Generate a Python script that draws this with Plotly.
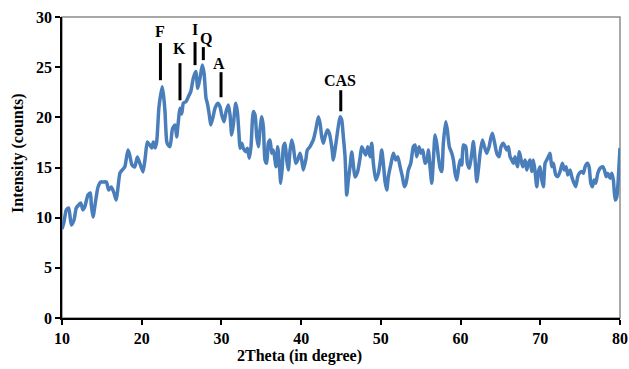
import plotly.graph_objects as go

two_theta = [10.00, 10.25, 10.54, 10.84, 11.17, 11.51, 11.79, 12.10, 12.35, 12.63, 12.85, 13.26, 13.55, 13.68, 13.89, 14.18, 14.52, 14.86, 15.14, 15.56,
             15.86, 16.19, 16.52, 16.81, 17.03, 17.28, 17.57, 17.87, 18.28, 18.49, 18.78, 19.12, 19.45, 19.75, 20.16, 20.45, 20.70, 21.00, 21.25, 21.46,
             21.67, 21.88, 22.17, 22.58, 22.80, 22.92, 23.14, 23.30, 23.55, 23.86, 24.18, 24.39, 24.55, 24.81, 25.02, 25.22, 25.56, 25.85, 26.15, 26.47,
             26.78, 27.03, 27.31, 27.60, 27.82, 28.07, 28.23, 28.48, 28.66, 28.91, 29.20, 29.54, 29.82, 30.04, 30.33, 30.58, 30.87, 31.08, 31.29, 31.49,
             31.79, 32.00, 32.21, 32.33, 32.55, 32.75, 33.05, 33.25, 33.50, 33.71, 34.00, 34.22, 34.43, 34.63, 34.84, 35.06, 35.26, 35.47, 35.68, 35.88,
             36.10, 36.31, 36.51, 36.85, 37.06, 37.26, 37.44, 37.64, 37.77, 37.98, 38.19, 38.39, 38.61, 38.82, 39.02, 39.32, 39.57, 39.86, 40.07, 40.28,
             40.58, 40.78, 41.12, 41.33, 41.53, 41.83, 42.16, 42.37, 42.58, 42.79, 43.00, 43.29, 43.54, 43.84, 44.04, 44.25, 44.54, 44.88, 45.09, 45.29,
             45.51, 45.72, 45.92, 46.14, 46.35, 46.55, 46.76, 47.08, 47.39, 47.60, 47.80, 48.10, 48.36, 48.64, 48.86, 49.06, 49.36, 49.69, 49.90, 50.11,
             50.31, 50.53, 50.74, 50.94, 51.28, 51.57, 51.87, 52.12, 52.41, 52.70, 52.95, 53.16, 53.45, 53.75, 54.08, 54.29, 54.50, 54.79, 55.04, 55.26,
             55.54, 55.80, 55.96, 56.17, 56.39, 56.59, 56.80, 57.01, 57.21, 57.43, 57.64, 57.84, 58.14, 58.34, 58.59, 58.90, 59.10, 59.31, 59.52, 59.72,
             59.94, 60.15, 60.35, 60.65, 60.85, 61.10, 61.41, 61.61, 61.82, 62.03, 62.23, 62.45, 62.74, 62.99, 63.29, 63.58, 63.79, 63.99, 64.24, 64.54,
             64.83, 65.08, 65.37, 65.58, 65.80, 66.00, 66.21, 66.42, 66.62, 66.84, 67.13, 67.38, 67.59, 67.80, 68.09, 68.30, 68.51, 68.72, 68.93, 69.13,
             69.35, 69.56, 69.76, 69.97, 70.19, 70.39, 70.60, 70.81, 71.02, 71.23, 71.44, 71.64, 71.94, 72.19, 72.48, 72.77, 73.02, 73.24, 73.45, 73.74,
             73.95, 74.24, 74.45, 74.70, 74.91, 75.21, 75.41, 75.62, 75.91, 76.12, 76.34, 76.54, 76.75, 76.96, 77.21, 77.50, 77.84, 78.04, 78.26, 78.47,
             78.76, 78.97, 79.17, 79.39, 79.60, 79.80, 80.00]

intensity = [8.87, 9.57, 10.77, 10.97, 9.27, 9.77, 10.97, 11.27, 11.47, 10.77, 11.07, 12.26, 12.46, 11.27, 10.07, 11.47, 13.06, 13.56, 13.56, 13.56,
             12.76, 13.06, 12.46, 11.76, 13.06, 14.46, 14.76, 15.05, 16.75, 16.25, 15.25, 15.05, 16.05, 15.45, 14.56, 16.05, 17.55, 17.25, 16.95, 17.55,
             16.95, 17.58, 21.07, 23.06, 21.73, 20.57, 17.58, 17.25, 17.08, 18.84, 19.24, 18.05, 19.24, 20.91, 20.34, 21.41, 21.57, 22.06, 22.56, 23.90,
             24.56, 22.90, 23.90, 25.22, 24.40, 21.90, 21.41, 20.24, 19.24, 19.91, 20.91, 21.41, 21.07, 20.24, 19.57, 20.57, 21.24, 20.24, 18.25, 19.24,
             21.41, 20.57, 18.25, 16.92, 17.42, 16.92, 16.58, 16.92, 15.92, 17.08, 20.57, 20.24, 18.08, 17.08, 18.74, 20.07, 19.07, 15.75, 15.42, 17.42,
             17.75, 16.42, 16.75, 15.08, 17.08, 15.42, 13.43, 15.08, 17.08, 17.42, 15.75, 14.76, 16.75, 17.75, 17.08, 15.42, 15.75, 16.42, 15.75, 14.76,
             15.75, 16.75, 17.08, 17.42, 17.75, 18.74, 20.07, 19.41, 18.08, 17.42, 18.08, 18.74, 18.41, 17.08, 15.75, 16.75, 18.41, 20.07, 19.74, 18.08,
             16.08, 12.26, 13.76, 15.15, 16.55, 15.25, 14.06, 14.56, 15.95, 17.08, 16.75, 16.25, 17.08, 16.08, 17.42, 15.42, 13.76, 14.43, 15.42, 16.75,
             15.42, 13.59, 12.76, 14.09, 15.42, 16.42, 15.75, 16.08, 15.08, 14.09, 13.09, 13.43, 14.76, 15.42, 17.08, 17.25, 16.08, 17.08, 16.42, 16.75,
             15.42, 15.75, 16.75, 15.08, 13.43, 15.75, 18.25, 17.42, 16.08, 14.96, 14.59, 17.42, 19.57, 18.74, 17.08, 16.42, 15.75, 14.43, 13.76, 14.76,
             15.75, 15.25, 17.25, 17.08, 15.42, 14.93, 16.42, 17.58, 15.75, 13.59, 14.76, 16.42, 17.75, 17.08, 16.42, 17.08, 17.92, 18.41, 17.58, 16.42,
             16.08, 17.08, 17.42, 17.08, 16.75, 17.08, 16.08, 15.75, 15.42, 16.08, 15.08, 16.58, 15.75, 15.08, 15.75, 14.76, 15.42, 15.75, 14.59, 15.75,
             14.56, 13.09, 14.56, 15.08, 13.76, 13.09, 15.42, 15.75, 16.08, 16.42, 15.08, 15.42, 14.26, 14.09, 14.59, 15.42, 14.76, 15.08, 14.26, 14.76,
             14.09, 13.43, 13.09, 14.09, 14.43, 14.59, 14.43, 15.08, 15.42, 15.08, 13.43, 13.09, 13.76, 13.43, 14.43, 14.93, 15.08, 14.76, 14.09, 14.43,
             13.93, 14.43, 13.76, 11.76, 12.09, 14.09, 16.95]

# Phase labels
phase_names = ["F", "K", "I", "Q", "A", "CAS"]
phase_x = [22.35, 24.8, 26.69, 27.73, 29.95, 44.97]
phase_line_low = [23.7, 21.7, 25.2, 25.7, 22.0, 20.6]
phase_line_high = [27.4, 25.4, 27.5, 27.0, 24.5, 22.7]
phase_text_x = [22.35, 24.75, 26.69, 28.07, 29.75, 44.9]
phase_text_y = [28.6, 26.9, 28.8, 27.9, 25.4, 23.7]

x_ticks = [10, 20, 30, 40, 50, 60, 70, 80]
y_ticks = [0, 5, 10, 15, 20, 25, 30]
x_title = "2Theta (in degree)"
y_title = "Intensity (counts)"

serif = "Liberation Serif"

fig = go.Figure()
fig.add_trace(go.Scatter(x=two_theta, y=intensity, mode="lines",
                         line=dict(color="#4A7EBB", width=3.5, shape="spline", smoothing=0.6),
                         hoverinfo="skip", showlegend=False))

for name, xx, lo, hi, tx, ty in zip(phase_names, phase_x, phase_line_low, phase_line_high, phase_text_x, phase_text_y):
    fig.add_trace(go.Scatter(x=[xx, xx], y=[lo, hi], mode="lines",
                             line=dict(color="black", width=3), showlegend=False, hoverinfo="skip"))
    fig.add_annotation(x=tx, y=ty, text="<b>%s</b>" % name, showarrow=False,
                       xref="x", yref="y", font=dict(family=serif, size=16, color="black"))

fig.add_shape(type="rect", xref="paper", yref="paper", x0=0, y0=0, x1=1, y1=1,
              line=dict(color="#8C8C8C", width=1.5), layer="below")

axis_font = dict(family=serif, size=16, color="black")
fig.add_annotation(x=0.4265, y=-0.126, xref="paper", yref="paper", text="<b>%s</b>" % x_title,
                   showarrow=False, font=axis_font, xanchor="center", yanchor="middle")
fig.add_annotation(x=-0.079, y=0.548, xref="paper", yref="paper", text="<b>%s</b>" % y_title,
                   showarrow=False, font=axis_font, textangle=-90, xanchor="center", yanchor="middle")

fig.update_layout(
    width=629, height=369,
    margin=dict(l=62, r=9, t=17, b=51),
    paper_bgcolor="white", plot_bgcolor="white",
    showlegend=False,
    xaxis=dict(range=[10, 80], tickvals=x_ticks, ticktext=["<b>%d</b>" % v for v in x_ticks],
               showgrid=False, zeroline=False, showline=True, linecolor="black", linewidth=1.5,
               ticks="outside", ticklen=5, tickcolor="black", tickwidth=1.5, tickfont=axis_font,
               automargin=False),
    yaxis=dict(range=[0, 30], tickvals=y_ticks, ticktext=["<b>%d</b>" % v for v in y_ticks],
               showgrid=False, zeroline=False, showline=True, linecolor="black", linewidth=1.5,
               ticks="outside", ticklen=5, tickcolor="black", tickwidth=1.5, tickfont=axis_font,
               automargin=False),
)

fig.write_html("out.html", config={"displayModeBar": False},
               post_script="document.body.style.margin='0';document.body.style.overflow='hidden';")
